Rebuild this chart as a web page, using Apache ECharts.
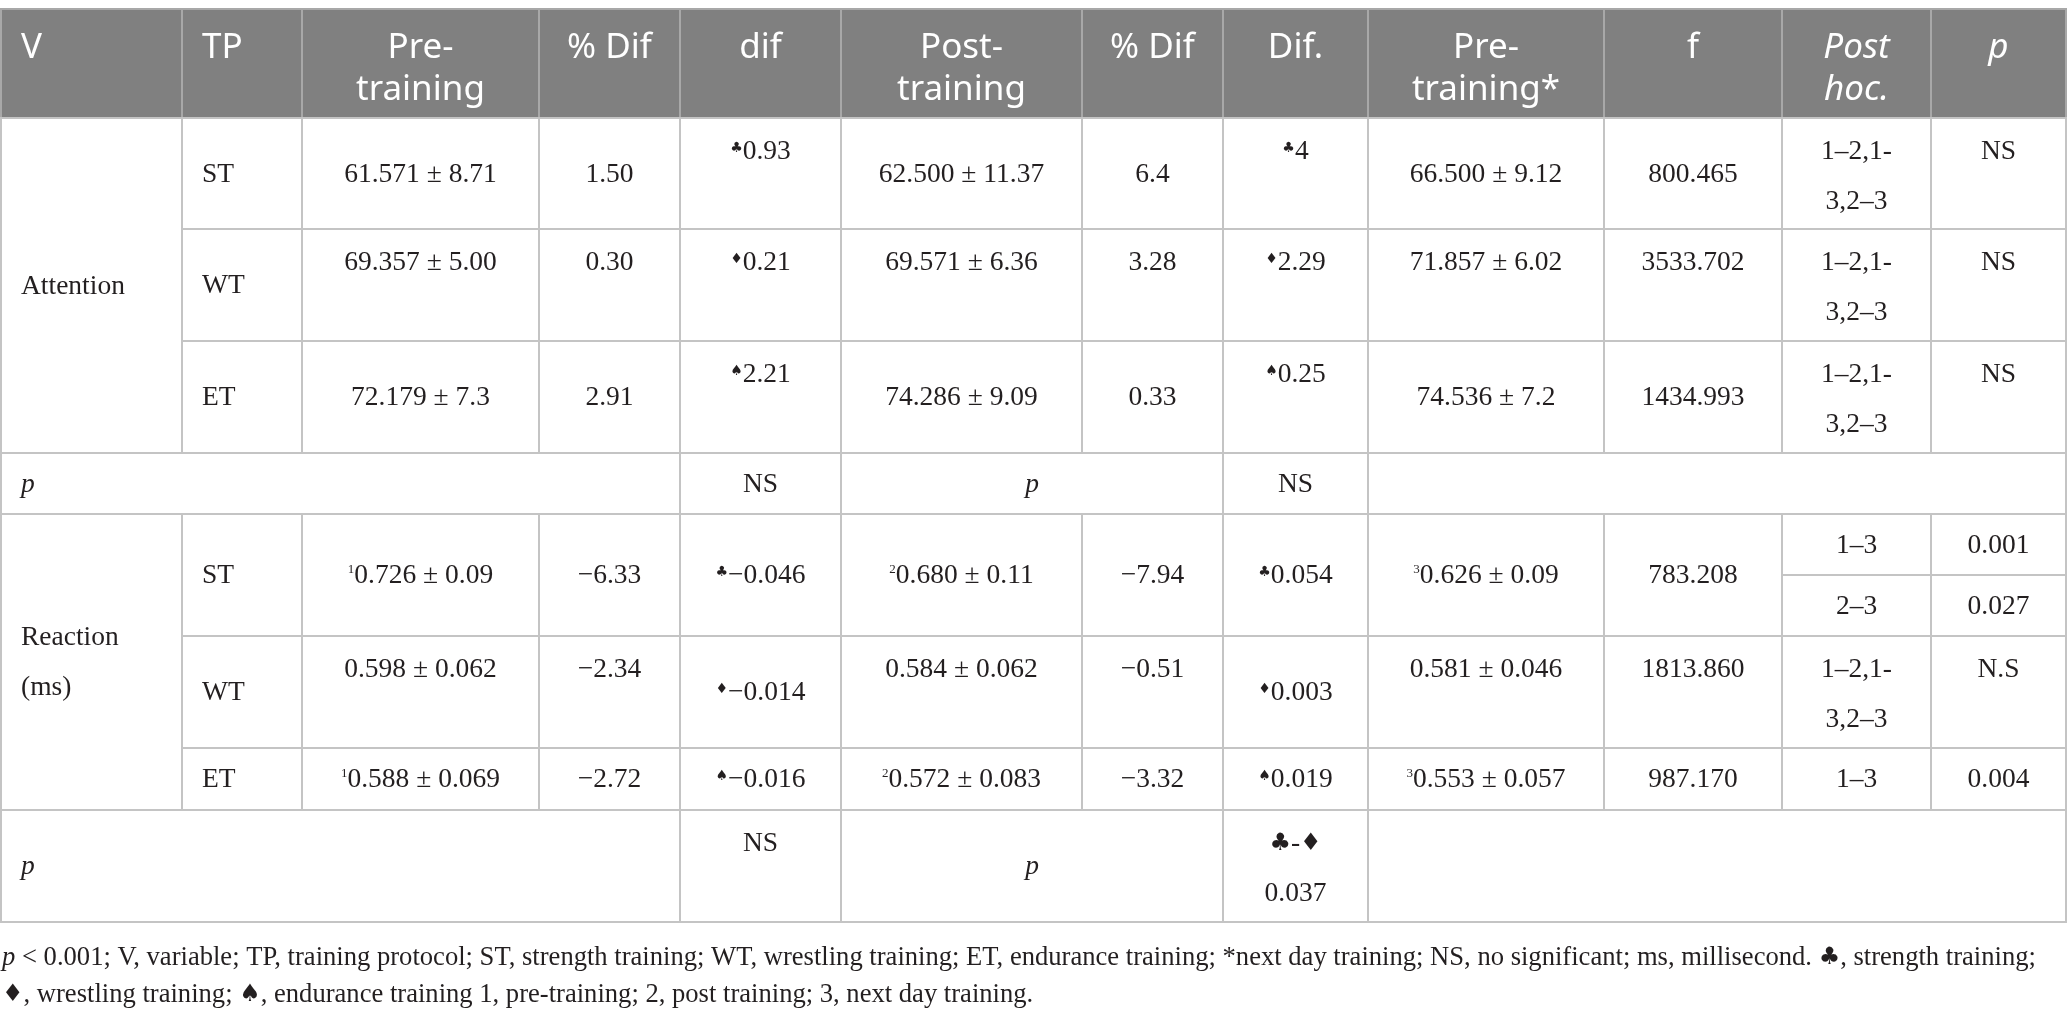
<!DOCTYPE html>
<html>
<head>
<meta charset="utf-8">
<script src="https://cdn.jsdelivr.net/npm/echarts@6/dist/echarts.min.js"></script>
<style>
html, body { margin: 0; padding: 0; background: #fff; }
#main { width: 2068px; height: 1018px; }
</style>
</head>
<body>
<div id="main"></div>
<script>
var W = 2068, H = 1018

// table text
var headers = ['V', 'TP', 'Pre-\ntraining', '% Dif', 'dif', 'Post-\ntraining', '% Dif', 'Dif.', 'Pre-\ntraining*', 'f', 'Post\nhoc.', 'p']
var protocols = ['ST', 'WT', 'ET']
var suits = ['♣', '♦', '♠']

var attPre = ['61.571 ± 8.71', '69.357 ± 5.00', '72.179 ± 7.3']
var attPrePct = ['1.50', '0.30', '2.91']
var attPreDif = ['0.93', '0.21', '2.21']
var attPost = ['62.500 ± 11.37', '69.571 ± 6.36', '74.286 ± 9.09']
var attPostPct = ['6.4', '3.28', '0.33']
var attPostDif = ['4', '2.29', '0.25']
var attNext = ['66.500 ± 9.12', '71.857 ± 6.02', '74.536 ± 7.2']
var attF = ['800.465', '3533.702', '1434.993']
var attPostHoc = ['1–2,1-\n3,2–3', '1–2,1-\n3,2–3', '1–2,1-\n3,2–3']
var attP = ['NS', 'NS', 'NS']
var attSig = ['NS', 'NS']

var reaPre = ['0.726 ± 0.09', '0.598 ± 0.062', '0.588 ± 0.069']
var reaPreSup = ['1', '', '1']
var reaPrePct = ['−6.33', '−2.34', '−2.72']
var reaPreDif = ['−0.046', '−0.014', '−0.016']
var reaPost = ['0.680 ± 0.11', '0.584 ± 0.062', '0.572 ± 0.083']
var reaPostSup = ['2', '', '2']
var reaPostPct = ['−7.94', '−0.51', '−3.32']
var reaPostDif = ['0.054', '0.003', '0.019']
var reaNext = ['0.626 ± 0.09', '0.581 ± 0.046', '0.553 ± 0.057']
var reaNextSup = ['3', '', '3']
var reaF = ['783.208', '1813.860', '987.170']
var reaPostHoc = [['1–3', '2–3'], '1–2,1-\n3,2–3', '1–3']
var reaP = [['0.001', '0.027'], 'N.S', '0.004']
var reaSig = ['NS', '0.037']

var note1 = '{i|p} < 0.001; V, variable; TP, training protocol; ST, strength training; WT, wrestling training; ET, endurance training; *next day training; NS, no significant; ms, millisecond. {s|♣}, strength training;'
var note2 = '{s|♦}, wrestling training; {s|♠}, endurance training 1, pre-training; 2, post training; 3, next day training.'

// layout
var colX = [1, 182, 302, 539, 680, 841, 1082, 1223, 1368, 1604, 1782, 1931, 2066]
var headY = [9, 118]
var attY = [118, 229, 341, 453]
var p1Y = [453, 514]
var reaY = [514, 636, 748, 810]
var reaSplit = 575
var p2Y = [810, 922]
var attVA = ['mmmtmmtmmtt', 'mtttttttttt', 'mmmtmmtmmtt']
var reaVA = ['mmmmmmmmmmm', 'mttmttmtttt', 'mmmmmmmmmmm']

var SERIF = '"Liberation Serif", "DejaVu Serif", serif'
var SANS = '"Noto Sans", "Open Sans", sans-serif'
var SYM = '"DejaVu Sans", sans-serif'
var INK = '#231f20'
var BODY = 27.5
var NOTE = 26.6
var PRE = {
  sup: { size: 13, family: SERIF, raise: 6 },
  sym: { size: 14, family: SYM, raise: 4 }
}

var measureCtx = document.createElement('canvas').getContext('2d')
function textWidth(t, size, family) {
  measureCtx.font = size + 'px ' + family
  return measureCtx.measureText(t).width
}

var cells = []
function cell(c0, c1, y0, y1, text, opt) {
  var o = { c0: c0, c1: c1, y0: y0, y1: y1, text: text, align: 'center', va: 'm' }
  for (var k in opt) o[k] = opt[k]
  cells.push(o)
}

// header
headers.forEach(function (h, j) {
  cell(j, j + 1, headY[0], headY[1], h, { head: true, align: j < 2 ? 'left' : 'center', italic: j >= 10 })
})

// attention block
cell(0, 1, attY[0], attY[3], 'Attention', { align: 'left' })
for (var r = 0; r < 3; r++) {
  var row = [protocols[r], attPre[r], attPrePct[r], attPreDif[r], attPost[r], attPostPct[r],
    attPostDif[r], attNext[r], attF[r], attPostHoc[r], attP[r]]
  row.forEach(function (t, k) {
    var o = { align: k === 0 ? 'left' : 'center', va: attVA[r][k] }
    if (k === 3 || k === 6) { o.pre = suits[r]; o.preKind = 'sym' }
    cell(k + 1, k + 2, attY[r], attY[r + 1], t, o)
  })
}
cell(0, 4, p1Y[0], p1Y[1], '{i|p}', { align: 'left' })
cell(4, 5, p1Y[0], p1Y[1], attSig[0])
cell(5, 7, p1Y[0], p1Y[1], '{i|p}')
cell(7, 8, p1Y[0], p1Y[1], attSig[1])
cell(8, 12, p1Y[0], p1Y[1], '')

// reaction block
cell(0, 1, reaY[0], reaY[3], 'Reaction\n(ms)', { align: 'left' })
for (var q = 0; q < 3; q++) {
  var rr = [protocols[q], reaPre[q], reaPrePct[q], reaPreDif[q], reaPost[q], reaPostPct[q],
    reaPostDif[q], reaNext[q], reaF[q]]
  var sups = { 1: reaPreSup[q], 4: reaPostSup[q], 7: reaNextSup[q] }
  rr.forEach(function (t, k) {
    var o = { align: k === 0 ? 'left' : 'center', va: reaVA[q][k] }
    if (k === 3 || k === 6) { o.pre = suits[q]; o.preKind = 'sym' }
    if (sups[k]) { o.pre = sups[k]; o.preKind = 'sup' }
    cell(k + 1, k + 2, reaY[q], reaY[q + 1], t, o)
  })
  if (Array.isArray(reaPostHoc[q])) {
    cell(10, 11, reaY[q], reaSplit, reaPostHoc[q][0])
    cell(10, 11, reaSplit, reaY[q + 1], reaPostHoc[q][1])
    cell(11, 12, reaY[q], reaSplit, reaP[q][0])
    cell(11, 12, reaSplit, reaY[q + 1], reaP[q][1])
  } else {
    cell(10, 11, reaY[q], reaY[q + 1], reaPostHoc[q], { va: reaVA[q][9] })
    cell(11, 12, reaY[q], reaY[q + 1], reaP[q], { va: reaVA[q][10] })
  }
}
cell(0, 4, p2Y[0], p2Y[1], '{i|p}', { align: 'left' })
cell(4, 5, p2Y[0], p2Y[1], reaSig[0], { va: 't' })
cell(5, 7, p2Y[0], p2Y[1], '{i|p}')
cell(7, 8, p2Y[0], p2Y[1], '{big|' + suits[0] + '}-{big|' + suits[1] + '}\n' + reaSig[1], { va: 't' })
cell(8, 12, p2Y[0], p2Y[1], '')

var myChart = echarts.init(document.getElementById('main'), null, { renderer: 'canvas' })

function renderCell(params, api) {
  var c = cells[api.value(4)]
  var a = api.coord([api.value(0), api.value(1)])
  var b = api.coord([api.value(2), api.value(3)])
  var size = c.head ? 35 : BODY
  var lh = c.head ? 42 : 50
  var tx = c.align === 'left' ? a[0] + 20 : (a[0] + b[0]) / 2
  var ty, va, mid
  if (c.head) {
    ty = a[1] + 18
    va = 'top'
  } else if (c.va === 't') {
    ty = a[1] + 34 - lh / 2
    va = 'top'
    mid = a[1] + 34
  } else {
    ty = (a[1] + b[1]) / 2 + 1
    va = 'middle'
    mid = ty
  }
  var children = [{
    type: 'rect',
    shape: { x: a[0], y: a[1], width: b[0] - a[0], height: b[1] - a[1] },
    style: { fill: c.head ? '#808080' : '#fff', stroke: c.head ? '#a8a8a8' : '#c4c4c4', lineWidth: 2 }
  }]
  var textStyle = {
    text: c.text,
    fill: c.head ? '#fff' : INK,
    fontSize: size,
    fontFamily: c.head ? SANS : SERIF,
    fontStyle: c.italic ? 'italic' : 'normal',
    align: c.align,
    verticalAlign: va,
    lineHeight: lh,
    rich: {
      i: { fontSize: size, fontFamily: SERIF, fontStyle: 'italic', fill: INK },
      big: { fontSize: 24, fontFamily: SYM, fill: INK }
    }
  }
  if (c.pre) {
    // small raised mark glued before the value
    var p = PRE[c.preKind]
    var pw = textWidth(c.pre, p.size, p.family)
    var mw = textWidth(c.text, size, SERIF)
    var x0 = tx - (pw + mw) / 2
    children.push({
      type: 'text', x: x0, y: mid - p.raise,
      style: { text: c.pre, fill: INK, fontSize: p.size, fontFamily: p.family, align: 'left', verticalAlign: 'middle' }
    })
    textStyle.align = 'left'
    textStyle.verticalAlign = 'middle'
    children.push({ type: 'text', x: x0 + pw, y: mid, style: textStyle })
  } else {
    children.push({ type: 'text', x: tx, y: ty, style: textStyle })
  }
  return { type: 'group', children: children }
}

var option = {
  animation: false,
  grid: { left: 0, right: 0, top: 0, bottom: 0 },
  xAxis: { type: 'value', min: 0, max: W, show: false },
  yAxis: { type: 'value', min: 0, max: H, inverse: true, show: false },
  series: [{
    type: 'custom',
    silent: true,
    clip: false,
    renderItem: renderCell,
    data: cells.map(function (c, i) { return [colX[c.c0], c.y0, colX[c.c1], c.y1, i] })
  }],
  graphic: [note1, note2].map(function (t, i) {
    return {
      type: 'text',
      x: 2,
      y: [958, 995][i],
      style: {
        text: t,
        fill: INK,
        fontSize: NOTE,
        fontFamily: SERIF,
        verticalAlign: 'middle',
        rich: {
          i: { fontSize: NOTE, fontFamily: SERIF, fontStyle: 'italic', fill: INK },
          s: { fontSize: 24, fontFamily: SYM, fill: INK }
        }
      }
    }
  })
}

myChart.setOption(option)
</script>
</body>
</html>
